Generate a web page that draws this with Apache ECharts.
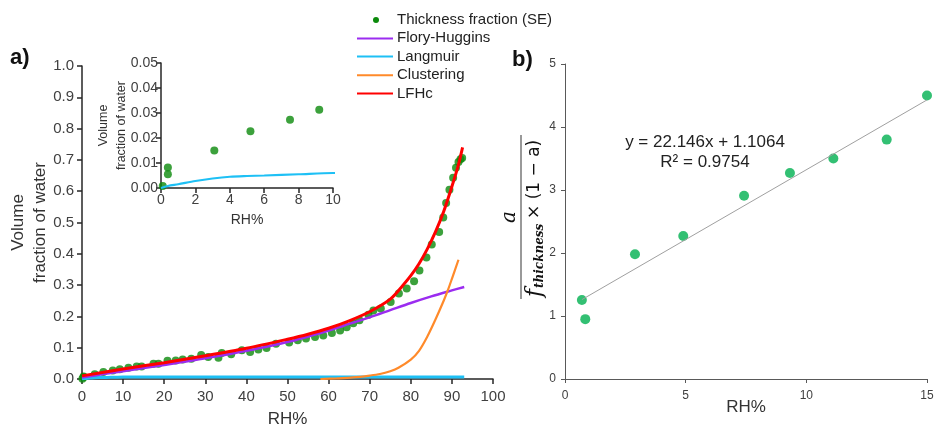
<!DOCTYPE html>
<html>
<head>
<meta charset="utf-8">
<script src="https://cdn.jsdelivr.net/npm/echarts@6/dist/echarts.min.js"></script>
<style>
html,body{margin:0;padding:0;background:#fff;}
#c{width:936px;height:426px;}
</style>
</head>
<body>
<div id="c"></div>
<script>
// ---- Panel a) data ----
const thickRH = [0.1,0.4,0.4,3.1,5.2,7.5,9.2,11.3,13.3,14.5,17.4,18.6,20.8,22.8,24.5,26.6,29.0,30.7,33.2,34.0,36.3,38.9,40.9,42.9,44.9,47.2,50.4,52.5,54.5,56.7,58.7,60.8,62.8,64.4,66.0,67.5,69.7,70.9,72.7,75.1,77.1,79.0,80.8,82.1,83.8,85.1,86.9,87.9,88.6,89.4,90.3,91.0,91.6,92.1,92.5];
const thickFrac = [0.0008,0.0082,0.0055,0.015,0.0227,0.0273,0.0313,0.036,0.040,0.040,0.049,0.049,0.058,0.059,0.062,0.065,0.077,0.070,0.068,0.083,0.079,0.092,0.086,0.094,0.099,0.113,0.117,0.124,0.129,0.134,0.139,0.147,0.155,0.165,0.178,0.188,0.205,0.219,0.225,0.246,0.273,0.289,0.312,0.347,0.388,0.430,0.470,0.516,0.562,0.605,0.643,0.675,0.693,0.702,0.706];

const fhRH  = [0,10,20,30,40,50,60,65,70,75,80,85,90,93];
const fhVal = [0.005,0.025,0.045,0.066,0.09,0.118,0.155,0.176,0.197,0.22,0.243,0.264,0.283,0.294];

const lgRH  = [0,0.4,1,2,3,4,5,6,8,10,20,40,60,80,93];
const lgVal = [0,0.0008,0.0015,0.0028,0.0038,0.0045,0.0048,0.005,0.0055,0.006,0.0063,0.0065,0.0066,0.0067,0.0067];

const clRH  = [58,62,66,70,72.5,75,77,80,82,84,86,88,89,90,91.6];
const clVal = [0,0.002,0.005,0.011,0.016,0.025,0.036,0.062,0.09,0.135,0.19,0.25,0.283,0.32,0.381];

const lfRH  = [0,10,20,30,40,50,55,60,65,70,75,78,80,82,84,86,88,90,91.5,92.6];
const lfVal = [0.01,0.032,0.052,0.074,0.098,0.127,0.143,0.162,0.186,0.215,0.255,0.298,0.33,0.368,0.415,0.47,0.535,0.615,0.68,0.74];

// ---- Panel b) data ----
const bRH  = [0.7,0.84,2.9,4.9,7.42,9.32,11.12,13.33,15.0];
const bVal = [1.254,0.95,1.98,2.27,2.91,3.27,3.50,3.80,4.50];
const trendRH  = [0.7,15];
const trendVal = [1.26,4.43];

// tick settings
const mainXTicks = {min:0,max:100,interval:10};
const mainYTicks = {min:0,max:1,interval:0.1};
const insetXTicks = {min:0,max:10,interval:2};
const insetYTicks = {min:0,max:0.05,interval:0.01};
const bXTicks = {min:0,max:15,interval:5};
const bYTicks = {min:0,max:5,interval:1};

const FONT = "'Liberation Sans', Arial, sans-serif";
const zip = (a,b)=>a.map((v,i)=>[v,b[i]]);

function axis(ticks, opts){
  return Object.assign({
    type:'value', min:ticks.min, max:ticks.max, interval:ticks.interval,
    splitLine:{show:false},
    nameMoveOverlap:false,
    axisLine:{show:true,onZero:false,lineStyle:{color:'#262626',width:1.5}},
    axisTick:{show:true,length:5,lineStyle:{color:'#262626',width:1.5}},
    axisLabel:{color:'#404040',fontFamily:FONT,fontSize:15,margin:10},
    nameTextStyle:{color:'#333',fontFamily:FONT}
  }, opts);
}

const chart = echarts.init(document.getElementById('c'), null, {renderer:'canvas'});

const GREEN = '#0b8a0b';
const lineSeries = (name, xs, ys, color, width) => ({
  name, type:'line', xAxisIndex:0, yAxisIndex:0, showSymbol:false,
  smooth:0.3,
  lineStyle:{color, width}, data:zip(xs, ys)
});

const option = {
  animation:false,
  backgroundColor:'#fff',
  grid:[
    {left:82, top:66, width:411, height:313, containLabel:false, outerBoundsMode:'none'},
    {left:161, top:63, width:172, height:125, containLabel:false, outerBoundsMode:'none'},
    {left:565, top:64, width:362, height:315, containLabel:false, outerBoundsMode:'none'}
  ],
  xAxis:[
    axis(mainXTicks,{gridIndex:0,name:'RH%',nameLocation:'middle',nameGap:32,
      nameTextStyle:{color:'#333',fontFamily:FONT,fontSize:17}}),
    axis(insetXTicks,{gridIndex:1,name:'RH%',nameLocation:'middle',nameGap:25,
      axisLabel:{color:'#404040',fontFamily:FONT,fontSize:14,margin:5},
      nameTextStyle:{color:'#333',fontFamily:FONT,fontSize:14}}),
    axis(bXTicks,{gridIndex:2,name:'RH%',nameLocation:'middle',nameGap:20,
      axisLine:{show:true,onZero:false,lineStyle:{color:'#595959',width:1}},
      axisTick:{show:true,length:4,lineStyle:{color:'#595959',width:1}},
      axisLabel:{color:'#404040',fontFamily:FONT,fontSize:12,margin:11},
      nameTextStyle:{color:'#333',fontFamily:FONT,fontSize:17}})
  ],
  yAxis:[
    axis(mainYTicks,{gridIndex:0,
      axisLabel:{color:'#404040',fontFamily:FONT,fontSize:15,margin:8,formatter:v=>v.toFixed(1)}}),
    axis(insetYTicks,{gridIndex:1,
      axisLabel:{color:'#404040',fontFamily:FONT,fontSize:14,margin:3,formatter:v=>v.toFixed(2)}}),
    axis(bYTicks,{gridIndex:2,
      axisLine:{show:true,onZero:false,lineStyle:{color:'#595959',width:1}},
      axisTick:{show:true,length:4,lineStyle:{color:'#595959',width:1}},
      axisLabel:{color:'#404040',fontFamily:FONT,fontSize:12,margin:9}})
  ],
  series:[
    {name:'Thickness fraction (SE)',type:'scatter',xAxisIndex:0,yAxisIndex:0,symbolSize:8,
      itemStyle:{color:GREEN},data:zip(thickRH,thickFrac)},
    lineSeries('Langmuir', lgRH, lgVal, '#1ec0f5', 3),
    lineSeries('Flory-Huggins', fhRH, fhVal, '#9b2cf0', 2.5),
    lineSeries('Clustering', clRH, clVal, '#ff8a2a', 2.2),
    lineSeries('LFHc', lfRH, lfVal, '#ff0000', 3),
    // inset
    {type:'line',xAxisIndex:1,yAxisIndex:1,showSymbol:false,smooth:0.3,clip:true,
      lineStyle:{color:'#1ec0f5',width:2.2},data:zip(lgRH,lgVal)},
    {type:'scatter',xAxisIndex:1,yAxisIndex:1,symbolSize:8,clip:true,
      itemStyle:{color:GREEN},data:zip(thickRH,thickFrac)},
    // panel b
    {type:'line',xAxisIndex:2,yAxisIndex:2,showSymbol:false,
      lineStyle:{color:'#a0a0a0',width:1},data:zip(trendRH,trendVal)},
    {type:'scatter',xAxisIndex:2,yAxisIndex:2,symbolSize:10,
      itemStyle:{color:'#00b050'},data:zip(bRH,bVal)}
  ],
  graphic:[
    {type:'text',left:10,top:47,style:{text:'a)',font:"bold 22px "+FONT,fill:'#111'}},
    {type:'text',left:512,top:49,style:{text:'b)',font:"bold 22px "+FONT,fill:'#111'}},
    // y axis titles (rotated)
    {type:'text',x:29,y:222.5,rotation:Math.PI/2,style:{text:'Volume\nfraction of water',font:"17px "+FONT,lineHeight:22,fill:'#333',textAlign:'center',textVerticalAlign:'middle'}},
    {type:'text',x:113,y:125.5,rotation:Math.PI/2,style:{text:'Volume\nfraction of water',font:"12.5px "+FONT,lineHeight:18,fill:'#333',textAlign:'center',textVerticalAlign:'middle'}},
    // legend
    {type:'circle',shape:{cx:376,cy:20,r:3},style:{fill:GREEN}},
    {type:'line',shape:{x1:357,y1:38.5,x2:393,y2:38.5},style:{stroke:'#9b2cf0',lineWidth:2}},
    {type:'line',shape:{x1:357,y1:56.5,x2:393,y2:56.5},style:{stroke:'#1ec0f5',lineWidth:2}},
    {type:'line',shape:{x1:357,y1:75.3,x2:393,y2:75.3},style:{stroke:'#ff8a2a',lineWidth:2}},
    {type:'line',shape:{x1:357,y1:93.5,x2:393,y2:93.5},style:{stroke:'#ff0000',lineWidth:2}},
    {type:'text',x:397,y:19.5,style:{text:'Thickness fraction (SE)',font:"15px "+FONT,fill:'#222',textVerticalAlign:'middle'}},
    {type:'text',x:397,y:38,style:{text:'Flory-Huggins',font:"15px "+FONT,fill:'#222',textVerticalAlign:'middle'}},
    {type:'text',x:397,y:56.5,style:{text:'Langmuir',font:"15px "+FONT,fill:'#222',textVerticalAlign:'middle'}},
    {type:'text',x:397,y:75,style:{text:'Clustering',font:"15px "+FONT,fill:'#222',textVerticalAlign:'middle'}},
    {type:'text',x:397,y:93.5,style:{text:'LFHc',font:"15px "+FONT,fill:'#222',textVerticalAlign:'middle'}},
    // equation
    {type:'text',x:705,y:142,style:{text:'y = 22.146x + 1.1064',font:"17px "+FONT,fill:'#222',textAlign:'center',textVerticalAlign:'middle'}},
    {type:'text',x:705,y:162,style:{text:'R² = 0.9754',font:"17px "+FONT,fill:'#222',textAlign:'center',textVerticalAlign:'middle'}},
    // panel b y label (fraction, rotated)
    {type:'group',x:521,y:217,rotation:Math.PI/2,children:[
      {type:'line',shape:{x1:-82,y1:0,x2:82,y2:0},style:{stroke:'#555',lineWidth:1.2}},
      {type:'text',x:0,y:-11,style:{text:'a',font:"italic 20px 'DejaVu Serif', serif",fill:'#111',textAlign:'center',textVerticalAlign:'middle'}},
      {type:'text',x:-80,y:14,style:{text:'f',font:"italic 22px 'DejaVu Serif', serif",fill:'#111',textAlign:'left',textVerticalAlign:'middle'}},
      {type:'text',x:-71,y:19,style:{text:'thickness',font:"bold italic 12px 'DejaVu Serif', serif",fill:'#111',textAlign:'left',textVerticalAlign:'middle'}},
      {type:'text',x:-2,y:14,style:{text:'× (1 − a)',font:"17px 'DejaVu Sans', sans-serif",fill:'#111',textAlign:'left',textVerticalAlign:'middle'}}
    ]}
  ]
};
chart.setOption(option);
</script>
</body>
</html>
